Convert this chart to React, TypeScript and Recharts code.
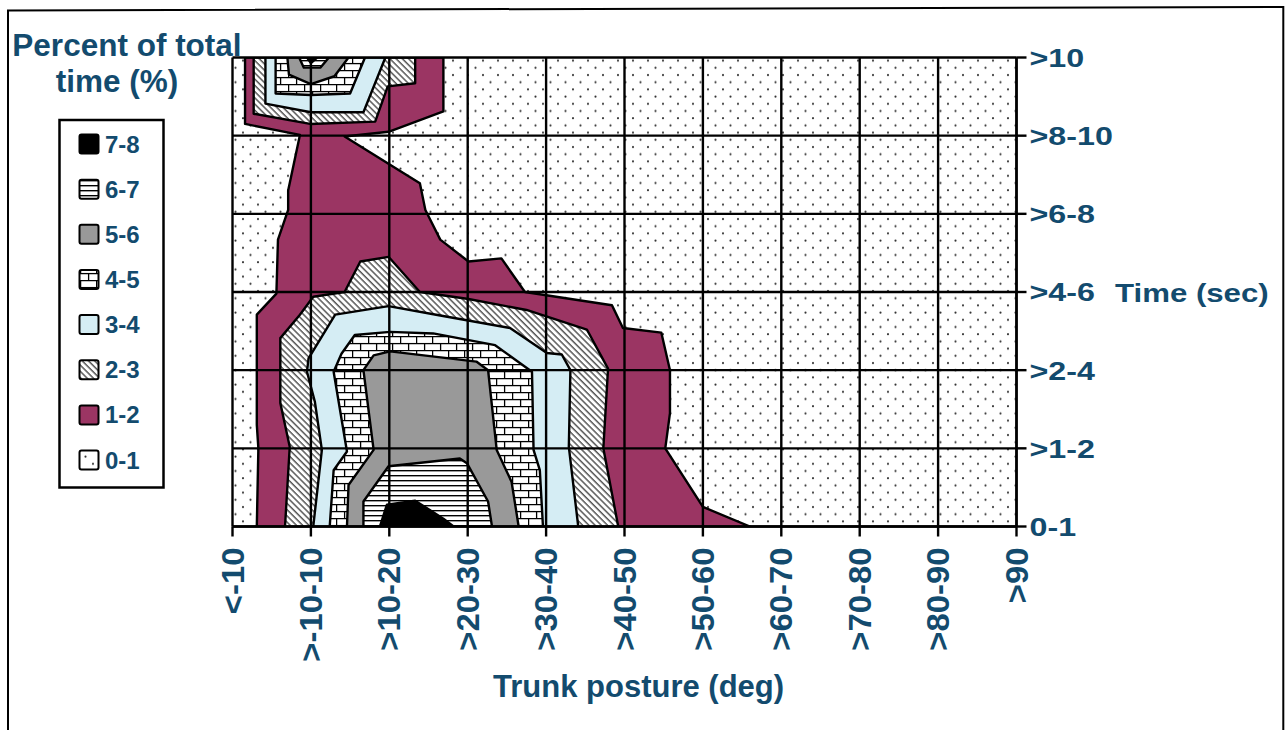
import React from "react";
import { CartesianGrid, ComposedChart, Scatter, XAxis, YAxis } from "recharts";

const postureLabels = [
  "<-10", ">-10-10", ">10-20", ">20-30", ">30-40", ">40-50",
  ">50-60", ">60-70", ">70-80", ">80-90", ">90",
];
const timeLabels = ["0-1", ">1-2", ">2-4", ">4-6", ">6-8", ">8-10", ">10"];

// contour outlines as [posture index, time index]
const band1Outline = [
  [0.31, 0], [0.33, 1.0], [0.31, 1.3], [0.31, 2.71], [0.56, 2.98], [0.58, 3.67],
  [0.71, 4.05], [0.71, 4.3], [0.86, 5.01], [0.16, 5.15], [0.16, 6], [2.69, 6],
  [2.69, 5.31], [1.99, 5.05], [1.43, 4.99], [2.39, 4.39], [2.46, 4.05], [2.65, 3.67],
  [3.01, 3.39], [3.43, 3.43], [3.73, 3.0], [4.84, 2.83], [4.98, 2.54], [5.47, 2.48],
  [5.58, 2.0], [5.58, 1.45], [5.52, 1.0], [6.0, 0.25], [6.6, 0],
];
const band2Main = [
  [0.67, 0], [0.73, 1.02], [0.61, 1.58], [0.61, 2.41], [0.86, 2.71], [1.03, 2.94],
  [1.43, 3.0], [1.63, 3.39], [1.99, 3.45], [2.39, 3.0], [3.01, 2.91], [3.75, 2.77],
  [4.52, 2.52], [4.79, 2.02], [4.73, 1.0], [4.92, 0],
];
const band2Top = [
  [0.27, 6], [0.27, 5.28], [0.99, 5.15], [1.82, 5.18], [1.98, 5.63], [2.33, 5.67], [2.33, 6],
];
const band3Main = [
  [1.03, 0], [1.14, 0.98], [1.05, 1.6], [0.95, 1.98], [0.97, 2.15], [1.31, 2.71],
  [1.99, 2.82], [2.65, 2.7], [3.54, 2.54], [4.01, 2.22], [4.2, 2.2], [4.31, 2.0],
  [4.29, 1.02], [4.41, 0],
];
const band3Top = [[0.42, 6], [0.42, 5.41], [1.0, 5.3], [1.67, 5.3], [1.95, 6]];
const band4Main = [
  [1.24, 0], [1.29, 0.72], [1.46, 0.96], [1.29, 1.98], [1.39, 2.21], [1.56, 2.45],
  [2.01, 2.49], [2.56, 2.47], [3.35, 2.32], [3.82, 1.98], [3.84, 0.98], [3.92, 0.72],
  [3.96, 0],
];
const band4Top = [[0.55, 6], [0.55, 5.54], [1.0, 5.52], [1.5, 5.54], [1.69, 6]];
const band5Main = [
  [1.46, 0], [1.48, 0.53], [1.8, 0.98], [1.67, 2.0], [1.8, 2.19], [2.01, 2.24],
  [3.11, 2.11], [3.26, 2.0], [3.37, 0.98], [3.56, 0.57], [3.65, 0],
];
const band5Top = [[0.7, 6], [0.72, 5.78], [1.0, 5.66], [1.3, 5.76], [1.48, 6]];
const band6Main = [
  [1.67, 0], [1.67, 0.32], [1.99, 0.77], [2.9, 0.87], [2.99, 0.81], [3.26, 0.32], [3.31, 0],
];
const band6Top = [[0.85, 6], [0.91, 5.87], [1.12, 5.87], [1.23, 6]];
const band7Main = [[1.88, 0], [1.97, 0.28], [2.33, 0.33], [2.69, 0.1], [2.82, 0]];
const band7Top = [[0.95, 6], [1.0, 5.93], [1.08, 6]];

const legendLabels = ["7-8", "6-7", "5-6", "4-5", "3-4", "2-3", "1-2", "0-1"];

const TEXT = "#134b6e";
const FONT = "'Liberation Sans', Arial, Helvetica, sans-serif";
const MAROON = "#9b3563";

const FILL: Record<string, string> = {
  "0-1": "url(#pat-dots)",
  "1-2": MAROON,
  "2-3": "url(#pat-hatch)",
  "3-4": "#d5edf4",
  "4-5": "url(#pat-brick)",
  "5-6": "#999999",
  "6-7": "url(#pat-lines)",
  "7-8": "#000000",
};

const layers = [
  { pts: band1Outline, fill: FILL["1-2"] },
  { pts: band2Main, fill: FILL["2-3"] },
  { pts: band2Top, fill: FILL["2-3"] },
  { pts: band3Main, fill: FILL["3-4"] },
  { pts: band3Top, fill: FILL["3-4"] },
  { pts: band4Main, fill: FILL["4-5"] },
  { pts: band4Top, fill: FILL["4-5"] },
  { pts: band5Main, fill: FILL["5-6"] },
  { pts: band5Top, fill: FILL["5-6"] },
  { pts: band6Main, fill: FILL["6-7"] },
  { pts: band6Top, fill: FILL["6-7"] },
  { pts: band7Main, fill: FILL["7-8"] },
  { pts: band7Top, fill: FILL["7-8"] },
];

const toXY = (pts: number[][]) => pts.map(([x, y]) => ({ x, y }));

const polygonLine = (fill: string) => (props: any) => {
  const pts = (props.points || []) as { x: number; y: number }[];
  if (!pts.length) return <g />;
  const d = pts.map((p, i) => `${i ? "L" : "M"}${p.x},${p.y}`).join(" ") + "Z";
  return <path d={d} fill={fill} stroke="#000" strokeWidth={2.4} strokeLinejoin="round" />;
};

const NoDot = () => <g />;

const PostureTick = ({ x, y, payload }: any) => (
  <text
    transform={`translate(${x},${y + 9}) rotate(-90) scale(1.06,1)`}
    textAnchor="end"
    dy="0.36em"
    fontSize={31}
    fontWeight={700}
    fontFamily={FONT}
    fill={TEXT}
  >
    {postureLabels[payload.value]}
  </text>
);

const TimeTick = ({ x, y, payload }: any) => (
  <text
    transform={`translate(${x + 1},${y}) scale(1.24,1)`}
    textAnchor="start"
    dy="0.36em"
    fontSize={26}
    fontWeight={700}
    fontFamily={FONT}
    fill={TEXT}
  >
    {timeLabels[payload.value]}
  </text>
);

function Patterns() {
  return (
    <defs>
      <pattern id="pat-dots" width={15} height={14.4} patternUnits="userSpaceOnUse">
        <rect width={15} height={14.4} fill="#fff" />
        <circle cx={3} cy={3} r={1.05} fill="#333" />
        <circle cx={10.5} cy={10.2} r={1.05} fill="#333" />
      </pattern>
      <pattern id="pat-hatch" width={4.4} height={4.4} patternUnits="userSpaceOnUse" patternTransform="rotate(-45)">
        <rect width={4.4} height={4.4} fill="#fff" />
        <line x1={1} y1={0} x2={1} y2={4.4} stroke="#444" strokeWidth={1.35} />
      </pattern>
      <pattern id="pat-brick" width={16} height={14} patternUnits="userSpaceOnUse">
        <rect width={16} height={14} fill="#fff" />
        <line x1={0} y1={0.6} x2={16} y2={0.6} stroke="#000" strokeWidth={1.3} />
        <line x1={0} y1={7.6} x2={16} y2={7.6} stroke="#000" strokeWidth={1.3} />
        <line x1={0.6} y1={0} x2={0.6} y2={7.6} stroke="#000" strokeWidth={1.3} />
        <line x1={8.6} y1={7.6} x2={8.6} y2={14} stroke="#000" strokeWidth={1.3} />
      </pattern>
      <pattern id="pat-lines" width={6} height={5} patternUnits="userSpaceOnUse">
        <rect width={6} height={5} fill="#fff" />
        <line x1={0} y1={0.7} x2={6} y2={0.7} stroke="#000" strokeWidth={1.4} />
      </pattern>
    </defs>
  );
}

function Overlay() {
  const swatchTop = 134.5;
  const step = 45.15;
  return (
    <svg
      width={1286}
      height={730}
      style={{ position: "absolute", left: 0, top: 0, pointerEvents: "none" }}
    >
      <Patterns />
      <path d="M8,760 L8,10.5 L1283.3,7 L1283.3,760" fill="none" stroke="#000" strokeWidth={2} />
      <g fontFamily={FONT} fontWeight={700} fill={TEXT}>
        <text x={127} y={56} fontSize={31.5} textAnchor="middle">Percent of total</text>
        <text x={117} y={91.5} fontSize={31.5} textAnchor="middle">time (%)</text>
        <text transform="translate(1115,301.5) scale(1.2,1)" fontSize={26}>Time (sec)</text>
        <text x={493} y={696.5} fontSize={31}>Trunk posture (deg)</text>
      </g>
      <rect x={59.5} y={120} width={104} height={367.5} fill="#fff" stroke="#000" strokeWidth={2.5} />
      {legendLabels.map((label, i) => (
        <g key={label}>
          <rect
            x={79.5}
            y={swatchTop + i * step}
            width={19}
            height={19}
            rx={2}
            fill={FILL[label]}
            stroke="#000"
            strokeWidth={2}
          />
          <text
            x={105}
            y={swatchTop + i * step + 18}
            fontSize={24}
            fontWeight={700}
            fontFamily={FONT}
            fill={TEXT}
          >
            {label}
          </text>
        </g>
      ))}
    </svg>
  );
}

export default function App() {
  return (
    <div style={{ position: "absolute", left: 0, top: 0, width: 1286, height: 730, background: "#fff" }}>
      <ComposedChart
        width={1286}
        height={730}
        margin={{ top: 57.5, right: 209.5, bottom: 173.5, left: 232.5 }}
      >
        <CartesianGrid fill="url(#pat-dots)" fillOpacity={1} stroke="none" horizontal={false} vertical={false} />
        <XAxis
          type="number"
          dataKey="x"
          domain={[0, 10]}
          ticks={postureLabels.map((_, i) => i)}
          interval={0}
          height={30}
          tickSize={10}
          axisLine={{ stroke: "#000", strokeWidth: 2.4 }}
          tickLine={{ stroke: "#000", strokeWidth: 2.4 }}
          tick={PostureTick}
          allowDataOverflow
        />
        <YAxis
          type="number"
          dataKey="y"
          orientation="right"
          domain={[0, 6]}
          ticks={timeLabels.map((_, i) => i)}
          interval={0}
          width={60}
          tickSize={10}
          axisLine={{ stroke: "#000", strokeWidth: 2.4 }}
          tickLine={{ stroke: "#000", strokeWidth: 2.4 }}
          tick={TimeTick}
          allowDataOverflow
        />
        {layers.map((layer, i) => (
          <Scatter
            key={i}
            data={toXY(layer.pts)}
            line={polygonLine(layer.fill)}
            shape={NoDot}
            isAnimationActive={false}
            legendType="none"
          />
        ))}
        <CartesianGrid stroke="#000" strokeWidth={2.4} fill="none" zIndex={1000} />
      </ComposedChart>
      <Overlay />
    </div>
  );
}
